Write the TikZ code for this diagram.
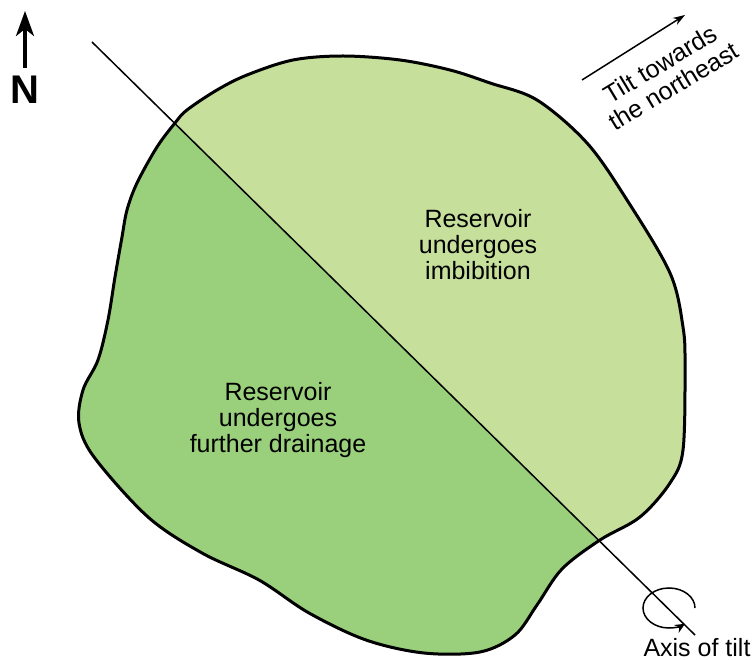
\documentclass[tikz,border=0pt]{standalone}
\usepackage{fontspec}
\setmainfont{Liberation Sans}
\usetikzlibrary{arrows.meta}
\definecolor{lightg}{RGB}{198,224,155}
\definecolor{darkg}{RGB}{154,208,123}
\tikzset{
  lbl/.style={align=center, font=\fontsize{25}{26}\selectfont, inner sep=0pt},
  outline/.style={line width=3pt, line join=round},
  axisln/.style={line width=1.5pt},
}
\begin{document}
\begin{tikzpicture}[x=1pt,y=-1pt]
\useasboundingbox (0,0) rectangle (756,660);
\def\blob{plot[smooth cycle, tension=0.55] coordinates {
(175,123) (187,110) (217,90) (247,75) (293,60) (343,56) (400,60) (450,70) (490,83) (537,100) (587,143) (627,200) (670,273) (683,327) (685,367) (683,450) (670,483) (640,517) (600,540) (562,569) (537,605) (515,635) (480,652) (424,653) (366,640) (309,613) (259,580) (202,553) (148,517) (94,457) (79,423) (83,390) (98,360) (108,320) (115,277) (122,237) (127,210) (137,183) (157,147)}}
\begin{scope}
  \clip \blob;
  \fill[lightg] (0,0) rectangle (756,700);
  \fill[darkg] (0,-48.5) -- (756,695) -- (0,695) -- cycle;
\end{scope}
\draw[outline] \blob;
% axis of tilt
\coordinate (axS) at (92,42);
\coordinate (axE) at (695,635);
\draw[axisln] (axS) -- (axE);
% rotation symbol
\coordinate (rotS) at (695,608);
\draw[white, line width=4pt] (648,594) arc[start angle=148, end angle=128, x radius=26, y radius=20];
\draw[line width=1.5pt, -{Stealth[length=10pt,width=9pt]}] (rotS) arc[start angle=0, end angle=-308, x radius=26, y radius=20];
\node[lbl, anchor=base] (axis) at (697,656) {Axis of tilt};
% north arrow
\node[font=\fontsize{40}{40}\selectfont\bfseries, inner sep=0pt] (N) at (25,90) {N};
\coordinate (Ntip) at (25,11);
\draw[line width=3.5pt, -{Stealth[length=25pt,width=18pt,inset=7pt]}] (25,68) -- (Ntip);
% tilt arrow
\coordinate (tA) at (582,80);
\coordinate (tB) at (685,15);
\draw[line width=1.5pt, -{Stealth[length=12pt,width=8pt]}] (tA) -- (tB);
\node[lbl, rotate=31] (tilt) at (667,75) {Tilt towards\\the northeast};
% labels
\node[lbl] (imb) at (478,245) {Reservoir\\undergoes\\imbibition};
\node[lbl] (drn) at (278,420) {Reservoir\\undergoes\\further drainage};
\end{tikzpicture}
\end{document}
